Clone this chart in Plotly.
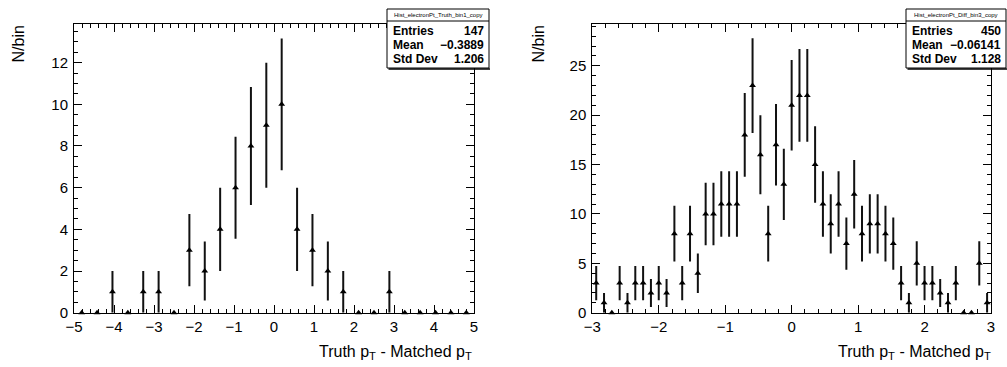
import numpy as np
import plotly.graph_objects as go

# ---- data ----
left_counts = [0, 0, 1, 0, 1, 1, 0, 3, 2, 4, 6, 8, 9, 10, 4, 3, 2, 1, 0, 0, 1, 0, 0, 0, 0, 0]
left_range = [-5.0, 5.0]
right_counts = [3, 1, 0, 3, 1, 3, 3, 2, 3, 2, 8, 3, 8, 4, 10, 10, 11, 11, 11, 18,
                23, 16, 8, 17, 13, 21, 22, 22, 15, 11, 9, 11, 7, 12, 8, 9, 9, 8, 7, 3,
                1, 5, 3, 3, 2, 1, 3, 0, 0, 5, 1]
right_range = [-3.0, 3.0]

left_stats_title = "Hist_electronPt_Truth_bin1_copy"
left_stats = [("Entries", "147"), ("Mean", "\u22120.3889"), ("Std Dev", "1.206")]
right_stats_title = "Hist_electronPt_Diff_bin3_copy"
right_stats = [("Entries", "450"), ("Mean", "\u22120.06141"), ("Std Dev", "1.128")]

x_title = "Truth p<sub>T</sub> - Matched p<sub>T</sub>"
y_title = "N/bin"

W, H = 1007, 367


def centers(rng, n):
    edges = np.linspace(rng[0], rng[1], n + 1)
    return 0.5 * (edges[:-1] + edges[1:])


def px(x):
    return x / W


def py(y):
    return 1 - y / H


fig = go.Figure()

FONT = "Liberation Sans, Arial, Helvetica, sans-serif"

panels = [
    dict(counts=left_counts, rng=left_range, xa="x", ya="y", xdom=(74, 474),
         ymax=13.84, ydt=2, ymin=0.5, stitle=left_stats_title, stats=left_stats,
         box=(387, 489), ytitle_x=18, xtitle_right=474),
    dict(counts=right_counts, rng=right_range, xa="x2", ya="y2", xdom=(592.3, 991),
         ymax=29.2, ydt=5, ymin=1, stitle=right_stats_title, stats=right_stats,
         box=(906, 1006), ytitle_x=538, xtitle_right=993),
]

ytop, ybot = 24.3, 312.7

shapes = []
annotations = []
layout_axes = {}
for i, p in enumerate(panels):
    c = np.array(p["counts"], dtype=float)
    xc = centers(p["rng"], len(c))
    fig.add_trace(go.Scatter(
        x=xc, y=c, mode="markers", xaxis=p["xa"], yaxis=p["ya"],
        marker=dict(symbol="triangle-up", size=6, color="black"),
        error_y=dict(type="data", array=np.sqrt(c), width=0, thickness=2, color="#111111"),
        cliponaxis=False, showlegend=False,
    ))
    sfx = "" if i == 0 else str(i + 1)
    common = dict(showline=True, linecolor="black", linewidth=1, mirror="ticks",
                  ticks="inside", tickcolor="black", showgrid=False, zeroline=False,
                  automargin=False,
                  tickfont=dict(family=FONT, size=15, color="black"))
    layout_axes["xaxis" + sfx] = dict(
        domain=[px(p["xdom"][0]), px(p["xdom"][1])], range=p["rng"], anchor="y" + sfx,
        dtick=1, ticklen=8, tickwidth=1,
        minor=dict(dtick=0.2, ticklen=4, ticks="inside", tickcolor="black", showgrid=False),
        **common)
    layout_axes["yaxis" + sfx] = dict(
        domain=[py(ybot), py(ytop)], range=[0, p["ymax"]], anchor="x" + sfx,
        dtick=p["ydt"], ticklen=8, tickwidth=1, ticklabelstandoff=2,
        minor=dict(dtick=p["ymin"], ticklen=4, ticks="inside", tickcolor="black", showgrid=False),
        **common)

    # stats box
    bx0, bx1 = p["box"]
    by0, by1, byt = 9, 68, 21
    shapes.append(dict(type="rect", xref="paper", yref="paper",
                       x0=px(bx0), x1=px(bx1), y0=py(by1), y1=py(by0),
                       line=dict(color="black", width=1), fillcolor="white"))
    shapes.append(dict(type="line", xref="paper", yref="paper",
                       x0=px(bx0), x1=px(bx1), y0=py(byt), y1=py(byt),
                       line=dict(color="black", width=1)))
    shapes.append(dict(type="line", xref="paper", yref="paper",
                       x0=px(bx0 + 1.5), x1=px(bx1 + 1), y0=py(by1 + 1), y1=py(by1 + 1),
                       line=dict(color="black", width=1.5)))
    annotations.append(dict(xref="paper", yref="paper", x=px((bx0 + bx1) / 2), y=py((by0 + byt) / 2),
                            text=p["stitle"], showarrow=False, xanchor="center", yanchor="middle",
                            font=dict(family=FONT, size=6, color="black")))
    for k, (lab, val) in enumerate(p["stats"]):
        yy = 31 + k * 14
        annotations.append(dict(xref="paper", yref="paper", x=px(bx0 + 4), y=py(yy),
                                text=lab, showarrow=False, xanchor="left",
                                yanchor="middle",
                                font=dict(family=FONT, size=12, color="black", weight="bold")))
        annotations.append(dict(xref="paper", yref="paper", x=px(bx1 - 3), y=py(yy),
                                text=val, showarrow=False, xanchor="right",
                                yanchor="middle",
                                font=dict(family=FONT, size=12, color="black", weight="bold")))
    # axis titles
    annotations.append(dict(xref="paper", yref="paper", x=px(p["ytitle_x"]), y=py(24),
                            text=y_title, showarrow=False, textangle=-90, xanchor="center",
                            yanchor="top", font=dict(family=FONT, size=16, color="black")))
    annotations.append(dict(xref="paper", yref="paper", x=px(p["xtitle_right"]), y=py(341),
                            text=x_title, showarrow=False, xanchor="right", yanchor="top",
                            font=dict(family=FONT, size=16, color="black")))

fig.update_layout(width=W, height=H, margin=dict(l=0, r=0, t=0, b=0),
                  paper_bgcolor="white", plot_bgcolor="white",
                  shapes=shapes, annotations=annotations, **layout_axes)

fig.write_html("out.html")
